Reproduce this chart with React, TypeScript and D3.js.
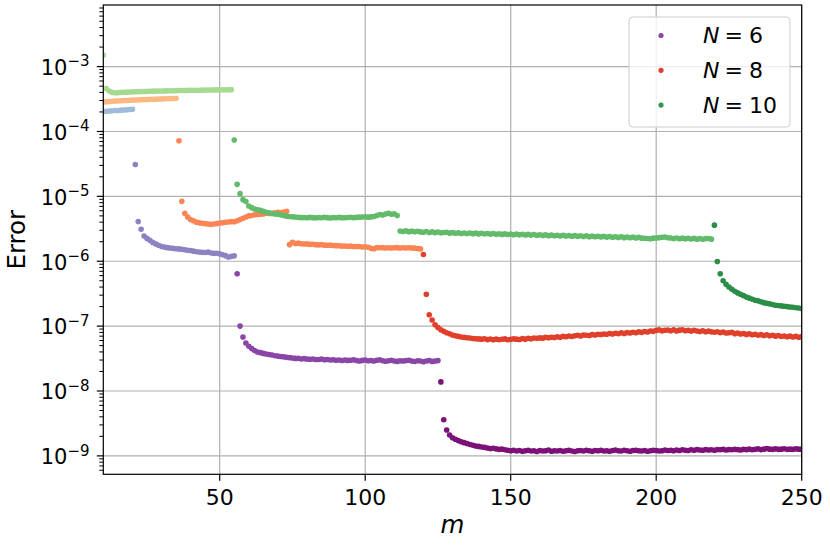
import React from 'react';
import * as d3 from 'd3';

// ---------- data (m = 10..250) ----------
// N = 6 segments
const n6A = [2.02, 2.05, 2.07, 2.08, 2.1, 2.11, 2.13, 2.14, 2.16, 2.18, 2.2]; // m 10-20, x1e-4
const n6B = [31, 4.1, 3.1, 2.45, 2.25, 2.1, 1.95, 1.85, 1.76, 1.68,
  1.65, 1.62, 1.6, 1.58, 1.56, 1.55, 1.53, 1.5, 1.48, 1.46,
  1.43, 1.4, 1.39, 1.37, 1.36, 1.38, 1.34, 1.32, 1.33, 1.3,
  1.26, 1.22, 1.16, 1.19, 1.21]; // m 21-55, x1e-6
const n6C = [64, 10, 6.8, 5.5, 4.9, 4.5, 4.2, 4.0, 3.9, 3.8,
  3.72, 3.65, 3.58, 3.5, 3.45, 3.4, 3.36, 3.3, 3.27, 3.22,
  3.18, 3.2, 3.12, 3.15, 3.1, 3.08, 3.12, 3.05, 3.06, 3.1,
  3.02, 3.05, 3.0, 3.03, 2.98, 3.0, 2.95, 3.0, 2.96, 2.98,
  3.02, 2.95, 2.9, 2.96, 3.0, 2.93, 2.95, 2.9, 2.97, 3.02,
  2.92, 2.88, 2.93, 2.97, 2.9, 2.86, 2.93, 2.9, 2.94, 2.98,
  2.9, 2.85, 2.92, 2.9, 2.82, 2.9, 2.95, 2.86, 2.9, 2.94]; // m 56-125, x1e-8
const n6D = [13.8, 3.6, 2.5, 2.1, 1.9, 1.8, 1.72, 1.65, 1.6, 1.55, 1.5, 1.46, 1.42, 1.4, 1.37,
  1.35, 1.32, 1.3, 1.31, 1.28, 1.26, 1.27, 1.24, 1.22, 1.2,
  1.22, 1.19, 1.21, 1.18, 1.2, 1.22, 1.19, 1.2, 1.17, 1.21,
  1.19, 1.2, 1.23, 1.18, 1.2, 1.19, 1.21, 1.18, 1.2, 1.22,
  1.19, 1.17, 1.2, 1.21, 1.19, 1.22, 1.2, 1.18, 1.21, 1.2,
  1.22, 1.19, 1.2, 1.18, 1.21, 1.23, 1.2, 1.19, 1.22, 1.2,
  1.18, 1.21, 1.22, 1.2, 1.19, 1.21, 1.18, 1.2, 1.22, 1.21,
  1.19, 1.2, 1.23, 1.21, 1.22, 1.2, 1.23, 1.21, 1.24, 1.22,
  1.21, 1.24, 1.22, 1.25, 1.23, 1.22, 1.25, 1.23, 1.24, 1.22,
  1.25, 1.24, 1.26, 1.23, 1.25, 1.24, 1.26, 1.25, 1.23, 1.26,
  1.25, 1.27, 1.24, 1.26, 1.28, 1.25, 1.27, 1.3, 1.27, 1.26,
  1.28, 1.26, 1.27, 1.29, 1.26, 1.27, 1.26, 1.28, 1.27, 1.27]; // m 126-250, x1e-9

// N = 8 segments
const n8A = [2.85, 2.88, 2.9, 2.92, 2.94, 2.96, 2.98, 3.0, 3.01, 3.03,
  3.05, 3.06, 3.07, 3.09, 3.1, 3.11, 3.13, 3.14, 3.15, 3.17,
  3.18, 3.19, 3.2, 3.21, 3.22, 3.24]; // m 10-35, x1e-4
const n8B = [72, 8.4, 5.5, 4.8, 4.4, 4.2, 4.0, 3.9, 3.85, 3.8,
  3.74, 3.7, 3.75, 3.8, 3.88, 3.92, 3.98, 4.02, 4.08, 4.05,
  4.2, 4.4, 4.6, 4.8, 5.0, 5.05, 5.2, 5.25, 5.3, 5.35,
  5.5, 5.45, 5.5, 5.6, 5.7, 5.65, 5.75, 5.9]; // m 36-73, x1e-6
const n8C = [1.8, 1.95, 1.88, 1.9, 1.86, 1.84, 1.85, 1.82, 1.83, 1.8,
  1.79, 1.8, 1.77, 1.76, 1.77, 1.75, 1.74, 1.73, 1.71, 1.72,
  1.7, 1.71, 1.69, 1.68, 1.68, 1.66, 1.67, 1.64, 1.58, 1.56,
  1.62, 1.61, 1.62, 1.6, 1.61, 1.6, 1.61, 1.62, 1.6, 1.61,
  1.6, 1.61, 1.6, 1.59, 1.57, 1.55]; // m 74-119, x1e-6
const n8D = [127, 31, 15, 12.4, 10.5, 9.5, 8.8, 8.3, 7.9, 7.6, 7.3,
  7.1, 6.95, 6.8, 6.7, 6.6, 6.55, 6.45, 6.4, 6.35, 6.3,
  6.38, 6.2, 6.33, 6.18, 6.3, 6.15, 6.28, 6.35, 6.18, 6.25,
  6.36, 6.3, 6.22, 6.42, 6.3, 6.5, 6.36, 6.55, 6.48, 6.58,
  6.52, 6.7, 6.62, 6.75, 6.68, 6.86, 6.74, 6.95, 6.85, 7.05,
  6.92, 7.12, 7.2, 7.05, 7.3, 7.22, 7.15, 7.4, 7.3, 7.5,
  7.42, 7.55, 7.48, 7.68, 7.55, 7.75, 7.62, 7.9, 7.7, 7.95,
  7.85, 8.05, 7.92, 8.15, 8.0, 8.25, 8.1, 8.4, 8.3, 8.6,
  8.75, 8.45, 8.62, 8.72, 8.48, 8.78, 8.42, 8.66, 8.8, 8.5,
  8.62, 8.38, 8.65, 8.42, 8.28, 8.48, 8.2, 8.36, 8.15, 8.05,
  8.2, 7.95, 8.1, 7.85, 7.9, 8.0, 7.65, 7.85, 7.55, 7.7,
  7.45, 7.6, 7.35, 7.5, 7.25, 7.4, 7.15, 7.35, 7.1, 7.25,
  7.0, 7.15, 6.9, 7.05, 6.85, 7.0, 6.8, 6.95, 6.75, 6.88]; // m 120-250, x1e-8

// N = 10 segments
const n10A = [15, 4.6, 4.2, 4.0, 3.95, 3.97, 4.0, 4.02, 4.04, 4.06,
  4.08, 4.1, 4.11, 4.13, 4.14, 4.15, 4.17, 4.18, 4.19, 4.2,
  4.21, 4.22, 4.23, 4.24, 4.25, 4.26, 4.27, 4.28, 4.29, 4.3,
  4.31, 4.31, 4.32, 4.33, 4.34, 4.34, 4.35, 4.36, 4.37, 4.37,
  4.38, 4.39, 4.4, 4.4, 4.41]; // m 10-54, x1e-4
const n10B = [74, 15.3, 11, 8.9, 8.3, 7.1, 6.7, 6.4, 6.2, 6.1,
  5.9, 5.7, 5.6, 5.45, 5.35, 5.3, 5.2, 5.05, 4.95, 4.9,
  4.85, 4.8, 4.75, 4.7, 4.72, 4.68, 4.75, 4.7, 4.66, 4.72,
  4.68, 4.74, 4.7, 4.65, 4.72, 4.69, 4.75, 4.7, 4.68, 4.73,
  4.76, 4.7, 4.74, 4.78, 4.8, 4.85, 4.78, 4.82, 4.9, 5.05,
  5.25, 5.15, 5.35, 5.5, 5.3, 5.4, 5.05]; // m 55-111, x1e-6
const n10C = [2.93, 2.88, 2.94, 2.86, 2.91, 2.84, 2.9, 2.83,
  2.8, 2.87, 2.78, 2.84, 2.76, 2.82, 2.74, 2.77, 2.8, 2.71,
  2.76, 2.7, 2.75, 2.68, 2.73, 2.67, 2.72, 2.66, 2.71, 2.64,
  2.7, 2.63, 2.68, 2.62, 2.67, 2.6, 2.65, 2.59, 2.64, 2.58,
  2.62, 2.56, 2.62, 2.55, 2.6, 2.54, 2.59, 2.53, 2.58, 2.51,
  2.56, 2.5, 2.55, 2.48, 2.53, 2.47, 2.52, 2.45, 2.51, 2.44,
  2.49, 2.43, 2.48, 2.42, 2.47, 2.41, 2.46, 2.39, 2.44, 2.38,
  2.43, 2.37, 2.42, 2.35, 2.41, 2.34, 2.39, 2.33, 2.38, 2.31,
  2.36, 2.3, 2.35, 2.28, 2.33, 2.27, 2.26, 2.24, 2.22, 2.27,
  2.28, 2.31, 2.34, 2.36, 2.3, 2.28, 2.24, 2.28, 2.22, 2.27,
  2.21, 2.26, 2.2, 2.25, 2.19, 2.24, 2.18, 2.23, 2.24, 2.19]; // m 112-219, x1e-6
const n10D = [36, 9.9, 6.4, 5.0, 4.4, 4.0, 3.7, 3.45, 3.25, 3.1,
  2.95, 2.8, 2.7, 2.6, 2.5, 2.45, 2.38, 2.3, 2.25, 2.2,
  2.15, 2.1, 2.08, 2.05, 2.02, 2.0, 1.97, 1.95, 1.92, 1.9, 1.87]; // m 220-250, x1e-7

const segments = [
  { start: 10, unit: 1e-4, color: '#9ebcda', values: n6A },
  { start: 21, unit: 1e-6, color: '#8c83c2', values: n6B },
  { start: 56, unit: 1e-8, color: '#8a45a8', values: n6C },
  { start: 126, unit: 1e-9, color: '#7d1079', values: n6D },
  { start: 10, unit: 1e-4, color: '#fdb884', values: n8A },
  { start: 36, unit: 1e-6, color: '#fb8454', values: n8B },
  { start: 74, unit: 1e-6, color: '#fb8454', values: n8C },
  { start: 120, unit: 1e-8, color: '#e0402b', values: n8D },
  { start: 10, unit: 1e-4, color: '#a5db90', values: n10A },
  { start: 55, unit: 1e-6, color: '#62bb6b', values: n10B },
  { start: 112, unit: 1e-6, color: '#62bb6b', values: n10C },
  { start: 220, unit: 1e-7, color: '#2a8e48', values: n10D },
];

const legendLabels = ['6', '8', '10'];
const legendColors = ['#8a46a8', '#e0402b', '#2e9a4f'];
const xTicks = [50, 100, 150, 200, 250];
const yTickExps = [-9, -8, -7, -6, -5, -4, -3];

export default function App() {
  const left = 103.3, right = 801.7, top = 5, bottom = 474.3;
  const x = d3.scaleLinear().domain([10, 250]).range([left, right]);
  const y = d3.scaleLog().domain([5.2e-10, 8.9e-3]).range([bottom, top]);

  const minor: number[] = [];
  for (let e = -10; e <= -3; e++) {
    for (let k = 2; k <= 9; k++) {
      const v = k * Math.pow(10, e);
      if (v >= 5.2e-10 && v <= 8.9e-3) minor.push(v);
    }
  }

  const font = 'DejaVu Sans, sans-serif';
  const grid = '#b0b0b0';

  return (
    <svg width={830} height={545} style={{ position: 'absolute', left: 0, top: 0, background: '#fff' }}
      fontFamily={font}>
      <defs>
        <clipPath id="plotClip">
          <rect x={left} y={top} width={right - left} height={bottom - top} />
        </clipPath>
      </defs>
      <rect x={0} y={0} width={830} height={545} fill="#fff" />
      {/* grid */}
      {xTicks.map(t => (
        <line key={'gx' + t} x1={x(t)} x2={x(t)} y1={top} y2={bottom} stroke={grid} strokeWidth={1.2} />
      ))}
      {yTickExps.map(e => (
        <line key={'gy' + e} x1={left} x2={right} y1={y(Math.pow(10, e))} y2={y(Math.pow(10, e))}
          stroke={grid} strokeWidth={1.2} />
      ))}
      {/* points */}
      <g clipPath="url(#plotClip)">
        {segments.map((s, si) => (
          <g key={'s' + si} fill={s.color}>
            {s.values.map((v, i) => (
              <circle key={i} cx={x(s.start + i)} cy={y(v * s.unit)} r={2.8} />
            ))}
          </g>
        ))}
      </g>
      {/* spines */}
      <rect x={left} y={top} width={right - left} height={bottom - top} fill="none" stroke="#000" strokeWidth={1.2} />
      {/* x ticks */}
      {xTicks.map(t => (
        <g key={'xt' + t}>
          <line x1={x(t)} x2={x(t)} y1={bottom} y2={bottom + 6.5} stroke="#000" strokeWidth={1.2} />
          <text x={x(t)} y={505} textAnchor="middle" fontSize={22} fill="#000">{t}</text>
        </g>
      ))}
      {/* y ticks */}
      {minor.map((v, i) => (
        <line key={'ym' + i} x1={left - 4} x2={left} y1={y(v)} y2={y(v)} stroke="#000" strokeWidth={1} />
      ))}
      {yTickExps.map(e => {
        const yy = y(Math.pow(10, e));
        return (
          <g key={'yt' + e}>
            <line x1={left - 6.5} x2={left} y1={yy} y2={yy} stroke="#000" strokeWidth={1.2} />
            <text x={89.5} y={yy + 8.3} textAnchor="end" fontSize={21} fill="#000">
              10<tspan fontSize={15} dy={-8.5}>{'\u2212' + Math.abs(e)}</tspan>
            </text>
          </g>
        );
      })}
      {/* axis labels */}
      <text x={452.5} y={533} textAnchor="middle" fontSize={24.5} fontStyle="italic" fill="#000">m</text>
      <text transform={`translate(25,239.7) rotate(-90)`} textAnchor="middle" fontSize={24.5} fill="#000">Error</text>
      {/* legend */}
      <rect x={629} y={17} width={161} height={110} rx={4} fill="#fff" fillOpacity={0.8} stroke="#cccccc" strokeWidth={1} />
      {legendLabels.map((lab, i) => {
        const cy = 35.5 + i * 34.8;
        return (
          <g key={'lg' + i}>
            <circle cx={661} cy={cy} r={2.6} fill={legendColors[i]} />
            <text x={703} y={cy + 7.8} fontSize={22} fill="#000">
              <tspan fontStyle="italic">N</tspan>
            </text>
            <text x={724.5} y={cy + 7.8} fontSize={22} fill="#000">=</text>
            <text x={749} y={cy + 7.8} fontSize={22} fill="#000">{lab}</text>
          </g>
        );
      })}
    </svg>
  );
}
